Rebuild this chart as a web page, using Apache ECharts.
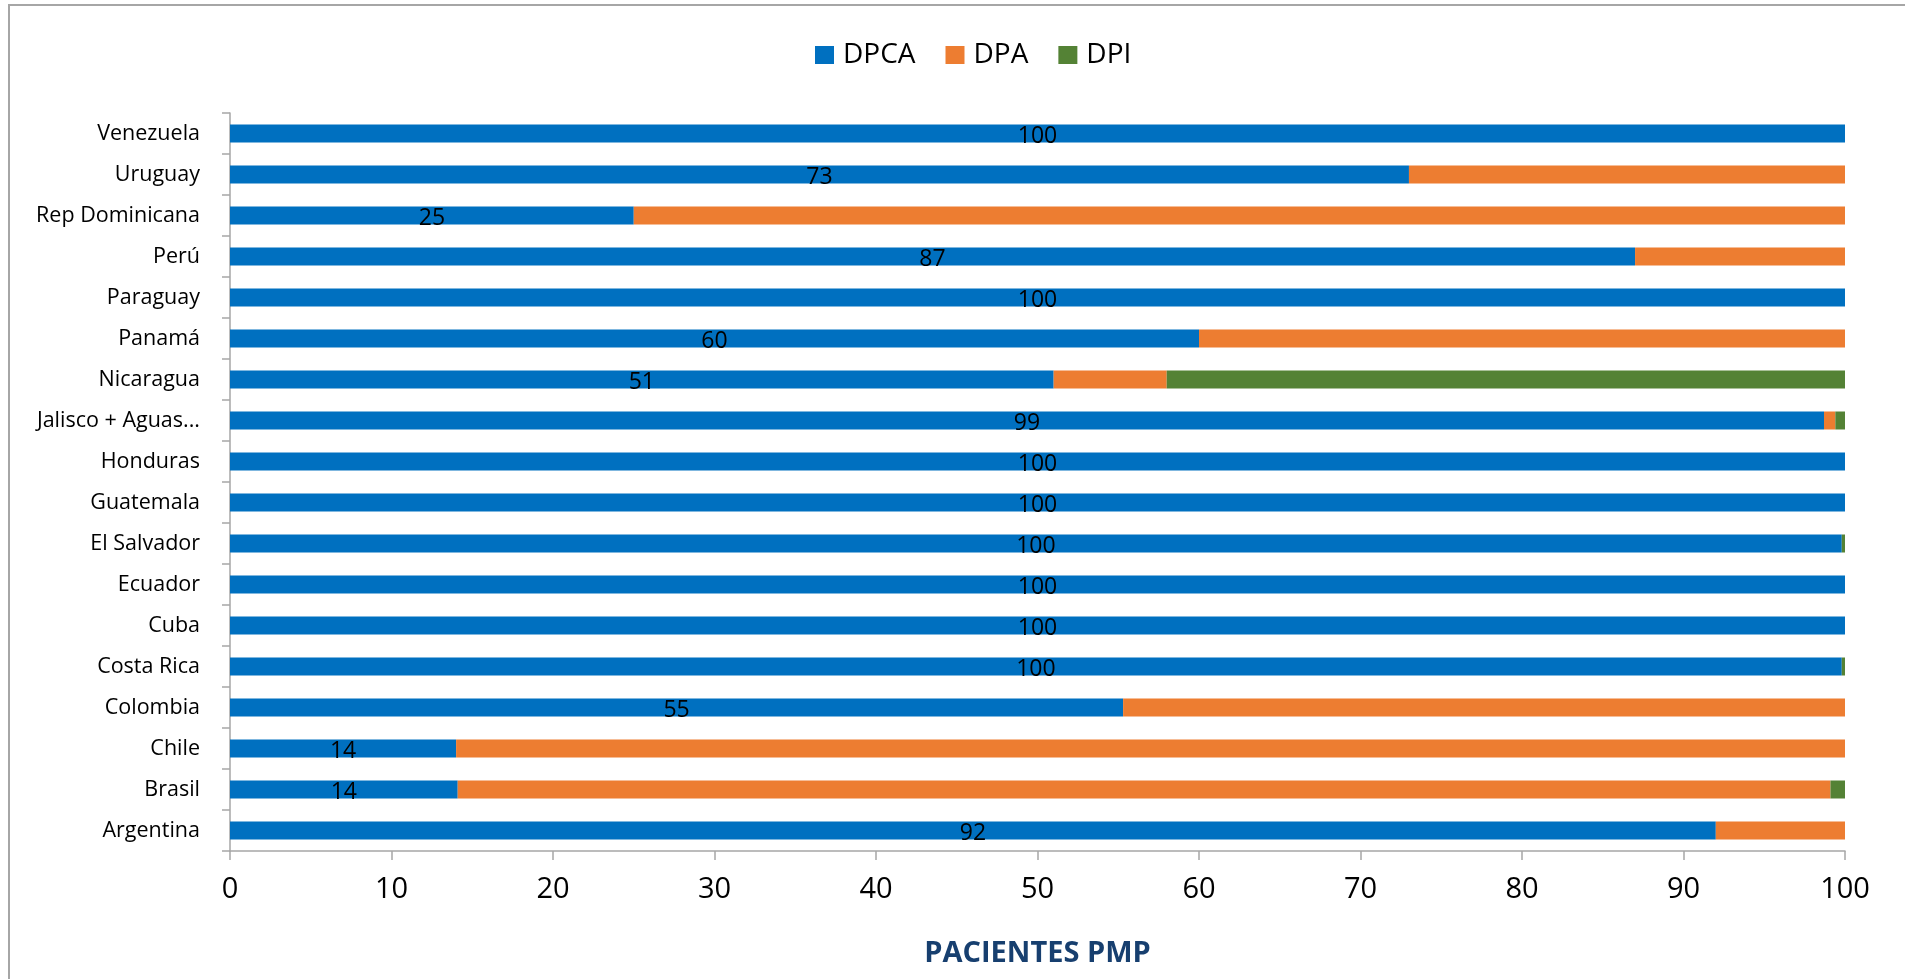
<!DOCTYPE html>
<html>
<head>
<meta charset="utf-8">
<title>Pacientes PMP</title>
<script src="https://cdn.jsdelivr.net/npm/echarts@6/dist/echarts.min.js"></script>
<style>
  html, body { margin: 0; padding: 0; background: #fff; }
  #chart { width: 1905px; height: 979px; }
</style>
</head>
<body>
<div id="chart"></div>
<script>
// categorias de abajo hacia arriba (el eje de categorias empieza abajo)
const paises = ['Argentina', 'Brasil', 'Chile', 'Colombia', 'Costa Rica', 'Cuba', 'Ecuador',
  'El Salvador', 'Guatemala', 'Honduras', 'Jalisco + Aguas...', 'Nicaragua', 'Panamá',
  'Paraguay', 'Perú', 'Rep Dominicana', 'Uruguay', 'Venezuela']
const dpca = [92, 14.1, 14, 55.3, 99.8, 100, 100, 99.8, 100, 100, 98.7, 51, 60, 100, 87, 25, 73, 100]
const dpa = [8, 85, 86, 44.7, 0, 0, 0, 0, 0, 0, 0.7, 7, 40, 0, 13, 75, 27, 0]
const dpi = [0, 0.9, 0, 0, 0.2, 0, 0, 0.2, 0, 0, 0.6, 42, 0, 0, 0, 0, 0, 0]
const xTicks = [0, 10, 20, 30, 40, 50, 60, 70, 80, 90, 100]

const font = '"Open Sans", "Noto Sans", sans-serif'
const gris = '#a6a6a6'

const chart = echarts.init(document.getElementById('chart'))

const option = {
  backgroundColor: '#fff',
  animation: false,
  textStyle: { fontFamily: font },
  // marco gris del area del grafico
  graphic: [{
    type: 'rect',
    shape: { x: 9, y: 5, width: 2000, height: 1000 },
    style: { fill: 'none', stroke: gris, lineWidth: 2 },
    silent: true
  }],
  legend: {
    top: 36,
    left: 810,
    itemWidth: 19,
    itemHeight: 18,
    itemGap: 30,
    icon: 'rect',
    textStyle: { fontSize: 28, color: '#000', fontFamily: font, padding: [0, 0, 0, 4] },
    data: ['DPCA', 'DPA', 'DPI']
  },
  grid: {
    left: 230,
    right: 60,
    top: 113,
    bottom: 128
  },
  xAxis: {
    type: 'value',
    min: xTicks[0],
    max: xTicks[xTicks.length - 1],
    interval: 10,
    name: 'PACIENTES PMP',
    nameLocation: 'middle',
    nameGap: 88,
    nameTextStyle: { fontSize: 29, fontWeight: 'bold', color: '#173f6f', fontFamily: font },
    axisLine: { show: true, lineStyle: { color: gris, width: 1.5 } },
    axisTick: { show: true, length: 9, lineStyle: { color: gris, width: 1.5 } },
    axisLabel: { fontSize: 29, color: '#000', margin: 24 },
    splitLine: { show: false }
  },
  yAxis: {
    type: 'category',
    data: paises,
    axisLine: { show: true, lineStyle: { color: gris, width: 1.5 } },
    axisTick: { show: true, length: 8, lineStyle: { color: gris, width: 1.5 } },
    axisLabel: { fontSize: 21.5, color: '#000', margin: 30 }
  },
  series: [
    {
      name: 'DPCA',
      type: 'bar',
      stack: 'total',
      barWidth: 18,
      data: dpca,
      itemStyle: { color: '#0070c0' },
      label: {
        show: true,
        position: 'inside',
        offset: [0, 3],
        color: '#000',
        fontSize: 23,
        fontFamily: font,
        formatter: (p) => Math.round(p.value)
      }
    },
    {
      name: 'DPA',
      type: 'bar',
      stack: 'total',
      data: dpa,
      itemStyle: { color: '#ed7d31' }
    },
    {
      name: 'DPI',
      type: 'bar',
      stack: 'total',
      data: dpi,
      itemStyle: { color: '#548235' }
    }
  ]
}

chart.setOption(option)
window.addEventListener('resize', () => {
  chart.resize()
})
</script>
</body>
</html>
